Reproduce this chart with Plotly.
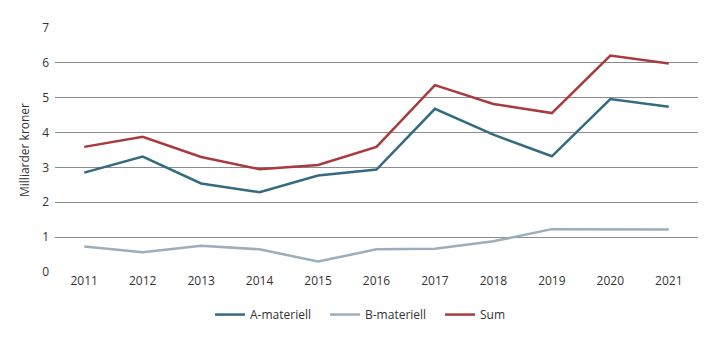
import plotly.graph_objects as go

years = [2011, 2012, 2013, 2014, 2015, 2016, 2017, 2018, 2019, 2020, 2021]
a_materiell = [2.85, 3.31, 2.54, 2.29, 2.77, 2.94, 4.68, 3.94, 3.32, 4.96, 4.74]
b_materiell = [0.73, 0.57, 0.75, 0.65, 0.30, 0.65, 0.67, 0.88, 1.23, 1.23, 1.22]
sum_total = [3.59, 3.88, 3.30, 2.95, 3.07, 3.59, 5.36, 4.82, 4.56, 6.21, 5.98]

series = [
    ("A-materiell", a_materiell, "#346b80"),
    ("B-materiell", b_materiell, "#9cadbc"),
    ("Sum", sum_total, "#a83b3d"),
]

fig = go.Figure()
for name, vals, color in series:
    fig.add_trace(go.Scatter(
        x=years, y=vals, name=name, mode="lines",
        line=dict(color=color, width=2.5),
    ))

fig.update_layout(
    width=719, height=341,
    margin=dict(l=55, r=21, t=28, b=69, autoexpand=False),
    paper_bgcolor="white", plot_bgcolor="white",
    font=dict(family="Open Sans", size=12, color="#333333"),
    showlegend=True,
    legend=dict(orientation="h", xref="container", x=0.532, xanchor="center",
                y=-0.115, yanchor="top", entrywidth=70,
                font=dict(size=12, color="#333333"), itemwidth=30),
    xaxis=dict(range=[2010.5, 2021.5], tickmode="array", tickvals=years,
               ticktext=[str(y) for y in years], showgrid=False, zeroline=False,
               showline=False, ticks="", ticklen=0),
    yaxis=dict(range=[0, 7], dtick=1, showgrid=True, gridcolor="#8c8c8c",
               gridwidth=1, zeroline=False, showline=False,
               ticklabelstandoff=5,
               title=dict(text="Milliarder kroner", standoff=9,
                          font=dict(size=12))),
)

fig.write_html("out.html")
